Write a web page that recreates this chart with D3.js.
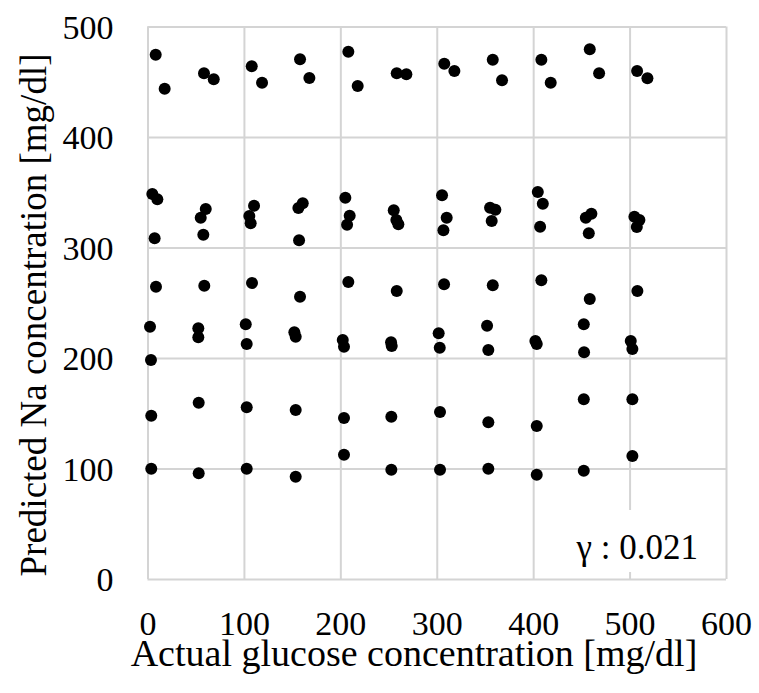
<!DOCTYPE html>
<html>
<head>
<meta charset="utf-8">
<script src="https://cdn.jsdelivr.net/npm/d3@7"></script>
<style>
  html, body { margin: 0; padding: 0; background: #fff; }
  svg { display: block; }
  text { font-family: "Liberation Serif", "Times New Roman", serif; fill: #000; }
</style>
</head>
<body>
<svg id="chart" width="759" height="693"></svg>
<script>
// Axis ticks
const xTicks = [0, 100, 200, 300, 400, 500, 600];
const yTicks = [0, 100, 200, 300, 400, 500];

// Measured points [actual glucose, predicted Na], grouped by Na level
const naLevel100 = [[3.9, 99.8], [53.1, 95.7], [102.9, 99.8], [153.7, 92.6], [203.8, 112.5],
  [252.9, 98.9], [303.4, 98.9], [353.5, 99.8], [403.7, 94.4], [452.5, 98.0], [502.9, 111.3]];
const naLevel150 = [[3.9, 147.8], [53.1, 159.6], [102.9, 155.4], [153.7, 152.9], [203.8, 145.7],
  [252.9, 146.9], [303.4, 151.1], [353.5, 141.8], [403.7, 138.5], [452.5, 162.6], [502.9, 162.6]];
const naLevel200 = [[2.6, 228.3], [3.6, 198.2], [52.7, 226.9], [52.7, 218.7], [101.9, 230.5],
  [102.9, 212.7], [152.3, 223.3], [153.7, 219.3], [202.5, 216.3], [203.8, 210.2],
  [252.6, 214.2], [253.3, 210.9], [302.0, 222.4], [303.1, 209.3], [352.2, 229.2],
  [353.5, 207.2], [402.3, 215.4], [403.7, 212.7], [452.5, 230.5], [452.8, 205.2],
  [501.2, 215.4], [502.9, 208.1]];
const naLevel265 = [[8.8, 264.5], [58.9, 265.4], [108.4, 267.9], [158.2, 255.5], [208.3, 268.8],
  [258.5, 260.6], [307.6, 266.7], [358.1, 265.8], [408.5, 270.3], [458.7, 253.4], [508.1, 260.6]];
const naLevel330 = [[5.0, 348.4], [10.2, 343.6], [7.4, 308.3], [60.4, 334.8], [55.2, 327.0],
  [57.9, 311.6], [110.5, 337.8], [105.6, 328.5], [107.0, 321.9], [161.0, 340.0],
  [156.5, 335.7], [157.2, 306.5], [205.2, 345.1], [209.7, 328.8], [207.0, 320.6],
  [255.4, 333.7], [258.1, 324.9], [260.2, 321.0], [305.5, 347.2], [310.3, 327.0],
  [306.9, 315.6], [355.3, 336.0], [360.8, 334.2], [357.0, 324.0], [404.8, 350.2],
  [410.0, 339.6], [407.2, 318.8], [454.6, 327.0], [460.4, 330.6], [457.7, 312.9],
  [505.0, 327.9], [510.2, 324.9], [507.5, 318.6]];
const naLevel460 = [[8.5, 474.5], [17.8, 443.7], [58.6, 457.6], [68.7, 452.2], [108.1, 464.0],
  [118.8, 449.2], [158.2, 470.3], [167.9, 453.4], [208.3, 477.2], [218.0, 446.2],
  [258.5, 457.6], [268.5, 456.7], [307.8, 466.2], [318.3, 459.7], [358.1, 470.0],
  [367.7, 451.3], [408.5, 470.0], [418.2, 449.2], [458.7, 479.4], [468.4, 457.6],
  [507.8, 459.7], [518.5, 453.1]];

const correlationLabel = "γ : 0.021";
const xTitle = "Actual glucose concentration [mg/dl]";
const yTitle = "Predicted Na concentration [mg/dl]";

const points = [naLevel100, naLevel150, naLevel200, naLevel265, naLevel330, naLevel460].flat();

const svg = d3.select("#chart");
const plot = { left: 147.5, right: 726, top: 26.5, bottom: 579 };

const x = d3.scaleLinear().domain([0, 600]).range([plot.left, plot.right]);
const y = d3.scaleLinear().domain([0, 500]).range([plot.bottom, plot.top]);

const gridColor = "#d4d4d4";

// Vertical gridlines (including the plot frame)
svg.append("g")
  .attr("transform", `translate(0,${plot.bottom})`)
  .call(d3.axisBottom(x).tickValues(xTicks).tickSize(-(plot.bottom - plot.top)).tickFormat(""))
  .call(g => g.select(".domain").remove())
  .call(g => g.selectAll("line").attr("stroke", gridColor).attr("stroke-width", 2));

// Horizontal gridlines
svg.append("g")
  .attr("transform", `translate(${plot.left},0)`)
  .call(d3.axisLeft(y).tickValues(yTicks).tickSize(-(plot.right - plot.left)).tickFormat(""))
  .call(g => g.select(".domain").remove())
  .call(g => g.selectAll("line").attr("stroke", gridColor).attr("stroke-width", 2));

// Tick labels
svg.append("g")
  .attr("transform", `translate(0,${plot.bottom})`)
  .call(d3.axisBottom(x).tickValues(xTicks).tickSize(0).tickPadding(0).tickFormat(d3.format("d")))
  .call(g => g.select(".domain").remove())
  .call(g => g.selectAll("text")
    .attr("y", 56).attr("dy", null)
    .style("font-family", "'Liberation Serif', serif")
    .style("font-size", "34px").attr("fill", "#000"));

svg.append("g")
  .attr("transform", `translate(${plot.left},0)`)
  .call(d3.axisLeft(y).tickValues(yTicks).tickSize(0).tickPadding(0).tickFormat(d3.format("d")))
  .call(g => g.select(".domain").remove())
  .call(g => g.selectAll("text")
    .attr("x", -34).attr("dy", "0.34em")
    .style("font-family", "'Liberation Serif', serif")
    .style("font-size", "34px").attr("fill", "#000"));

// Correlation annotation with a white backing box
svg.append("rect")
  .attr("x", 566).attr("y", 510).attr("width", 140).attr("height", 62)
  .attr("fill", "#fff");
svg.append("text")
  .attr("x", 698).attr("y", 559)
  .attr("text-anchor", "end")
  .style("font-size", "35px")
  .text(correlationLabel);

// Data points
svg.append("g")
  .selectAll("circle")
  .data(points)
  .join("circle")
  .attr("cx", d => x(d[0]))
  .attr("cy", d => y(d[1]))
  .attr("r", 6)
  .attr("fill", "#000");

// Axis titles
svg.append("text")
  .attr("x", 414).attr("y", 666)
  .attr("text-anchor", "middle")
  .style("font-size", "38px")
  .text(xTitle);

svg.append("text")
  .attr("transform", "translate(46,315) rotate(-90)")
  .attr("text-anchor", "middle")
  .style("font-size", "37px")
  .text(yTitle);
</script>
</body>
</html>
